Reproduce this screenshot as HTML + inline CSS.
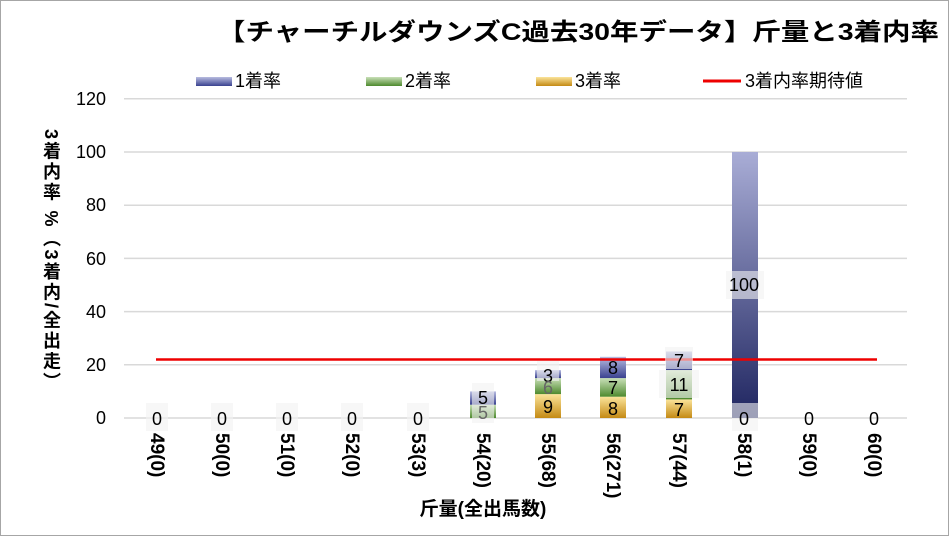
<!DOCTYPE html>
<html><head><meta charset="utf-8"><style>
html,body{margin:0;padding:0;background:#fff;}
#c{position:relative;width:947px;height:534px;border:1px solid #a6a6a6;overflow:hidden;font-family:"Liberation Sans","Noto Sans CJK JP",sans-serif;}
.yt{position:absolute;left:37px;top:128px;writing-mode:vertical-rl;font-size:18px;font-weight:bold;color:#000;letter-spacing:2.5px;}
</style></head><body><div id="c">
<svg width="947" height="534" style="position:absolute;left:0;top:0" font-family="Liberation Sans, Noto Sans CJK JP, sans-serif">
<defs>
<linearGradient id="gb" x1="0" y1="0" x2="0" y2="1"><stop offset="0" stop-color="#a9add6"/><stop offset="1" stop-color="#1f2560"/></linearGradient>
<linearGradient id="gs" x1="0" y1="0" x2="0" y2="1"><stop offset="0" stop-color="#b8bce0"/><stop offset="1" stop-color="#3a4290"/></linearGradient>
<linearGradient id="gg" x1="0" y1="0" x2="0" y2="1"><stop offset="0" stop-color="#c9e0b8"/><stop offset="1" stop-color="#4e8a2e"/></linearGradient>
<linearGradient id="go" x1="0" y1="0" x2="0" y2="1"><stop offset="0" stop-color="#fbe49a"/><stop offset="1" stop-color="#c48a14"/></linearGradient>
</defs>
<text x="216" y="39" font-size="24" font-weight="bold" textLength="722" lengthAdjust="spacingAndGlyphs">【チャーチルダウンズC過去30年データ】斤量と3着内率</text>
<rect x="195" y="76" width="36" height="9" fill="url(#gs)"/><text x="234" y="86" font-size="18">1着率</text>
<rect x="365" y="76" width="36" height="9" fill="url(#gg)"/><text x="404" y="86" font-size="18">2着率</text>
<rect x="535" y="76" width="36" height="9" fill="url(#go)"/><text x="574" y="86" font-size="18">3着率</text>
<line x1="702" y1="80" x2="740" y2="80" stroke="#e00" stroke-width="3"/><text x="744" y="86" font-size="18">3着内率期待値</text>
<g stroke="#d9d9d9" stroke-width="1.5">
<line x1="123" x2="906" y1="97.8" y2="97.8"/><line x1="123" x2="906" y1="151" y2="151"/>
<line x1="123" x2="906" y1="204.2" y2="204.2"/><line x1="123" x2="906" y1="257.4" y2="257.4"/>
<line x1="123" x2="906" y1="310.6" y2="310.6"/><line x1="123" x2="906" y1="363.8" y2="363.8"/>
<line x1="123" x2="906" y1="417" y2="417"/>
</g>
<g font-size="18" text-anchor="end">
<text x="105" y="104">120</text><text x="105" y="157">100</text><text x="105" y="210">80</text>
<text x="105" y="264">60</text><text x="105" y="317">40</text><text x="105" y="370">20</text><text x="105" y="423">0</text>
</g>
<rect x="469" y="403.7" width="26" height="13.3" fill="url(#gg)"/>
<rect x="469" y="390.4" width="26" height="13.3" fill="url(#gs)"/>
<rect x="534" y="393.1" width="26" height="23.9" fill="url(#go)"/>
<rect x="534" y="377.1" width="26" height="16" fill="url(#gg)"/>
<rect x="534" y="369.1" width="26" height="8" fill="url(#gs)"/>
<rect x="599" y="395.7" width="26" height="21.3" fill="url(#go)"/>
<rect x="599" y="377.1" width="26" height="18.6" fill="url(#gg)"/>
<rect x="599" y="355.8" width="26" height="21.3" fill="url(#gs)"/>
<rect x="665" y="398.4" width="26" height="18.6" fill="url(#go)"/>
<rect x="665" y="369.1" width="26" height="29.3" fill="url(#gg)"/>
<rect x="665" y="350.5" width="26" height="18.6" fill="url(#gs)"/>
<rect x="731" y="151" width="26" height="266" fill="url(#gb)"/>
<line x1="155" y1="358.5" x2="876" y2="358.5" stroke="#e00" stroke-width="2.5"/>
<g fill="#f2f2f2" fill-opacity="0.6">
<rect x="145" y="402" width="22" height="28"/><rect x="210" y="402" width="22" height="28"/>
<rect x="275" y="402" width="22" height="28"/><rect x="340" y="402" width="22" height="28"/>
<rect x="406" y="402" width="22" height="28"/><rect x="731" y="402" width="26" height="28"/>
<rect x="471" y="382" width="22" height="40"/><rect x="536" y="360" width="22" height="20"/>
<rect x="664" y="346" width="28" height="22"/><rect x="658" y="369" width="40" height="28"/>
<rect x="725" y="270" width="38" height="28"/>
</g>
<g font-size="18" text-anchor="middle">
<text x="156" y="424">0</text><text x="221" y="424">0</text><text x="286" y="424">0</text>
<text x="351" y="424">0</text><text x="417" y="424">0</text><text x="743" y="424">0</text>
<text x="808" y="424">0</text><text x="873" y="424">0</text>
<text x="482" y="403">5</text><text x="482" y="418" fill="#666">5</text>
<text x="547" y="381">3</text><text x="547" y="393" fill="#666">6</text><text x="547" y="412">9</text>
<text x="612" y="373">8</text><text x="612" y="393">7</text><text x="612" y="414">8</text>
<text x="678" y="366">7</text><text x="678" y="390">11</text><text x="678" y="415">7</text>
<text x="743" y="290">100</text>
</g>
<g font-size="19" font-weight="bold">
<text transform="translate(150,432) rotate(90)">49(0)</text>
<text transform="translate(215,432) rotate(90)">50(0)</text>
<text transform="translate(280,432) rotate(90)">51(0)</text>
<text transform="translate(345,432) rotate(90)">52(0)</text>
<text transform="translate(411,432) rotate(90)">53(3)</text>
<text transform="translate(476,432) rotate(90)">54(20)</text>
<text transform="translate(541,432) rotate(90)">55(68)</text>
<text transform="translate(606,432) rotate(90)">56(271)</text>
<text transform="translate(672,432) rotate(90)">57(44)</text>
<text transform="translate(737,432) rotate(90)">58(1)</text>
<text transform="translate(802,432) rotate(90)">59(0)</text>
<text transform="translate(867,432) rotate(90)">60(0)</text>
</g>
<text x="482" y="514" text-anchor="middle" font-size="19" font-weight="bold">斤量(全出馬数)</text>
</svg>
<div class="yt">3着内率 %（3着内/全出走）</div>
</div></body></html>
